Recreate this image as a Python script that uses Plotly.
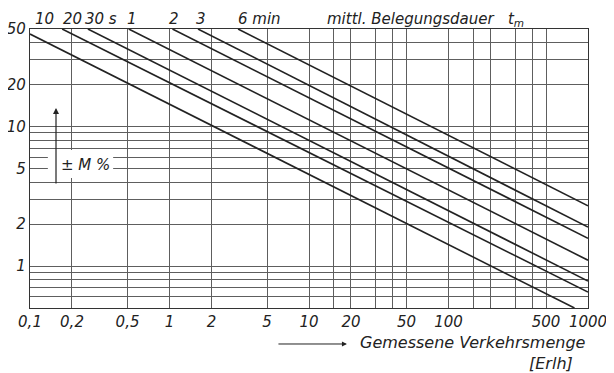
import math
import plotly.graph_objects as go

# ---- data ----
line_labels = ["10", "20", "30 s", "1", "2", "3", "6 min"]
x_start = [0.1, 0.17, 0.26, 0.51, 1.05, 1.6, 3.1]
y_start = [46, 50, 50, 50, 50, 50, 50]
x_end = [800, 1000, 1000, 1000, 1000, 1000, 1000]
y_end = [0.5, 0.65, 0.78, 1.1, 1.58, 1.9, 2.7]

x_grid = [0.1, 0.2, 0.5, 1, 2, 5, 10, 15, 20, 30, 40, 50, 100, 150, 200, 300, 400, 500, 1000]
x_ticktext = ["0,1", "0,2", "0,5", "1", "2", "5", "10", "", "20", "", "", "50", "100", "", "", "", "", "500", "1000"]
y_grid = [0.5, 0.6, 0.7, 0.8, 0.9, 1, 2, 3, 4, 5, 6, 7, 8, 9, 10, 20, 30, 40, 50]
y_ticktext = ["", "", "", "", "", "1", "2", "", "", "5", "", "", "", "", "10", "20", "", "", "50"]

FONT = "DejaVu Sans"
INK = "#222222"

fig = go.Figure()
for i in range(len(line_labels)):
    fig.add_trace(go.Scatter(
        x=[x_start[i], x_end[i]], y=[y_start[i], y_end[i]],
        mode="lines", line=dict(color=INK, width=1.6),
        hoverinfo="skip", showlegend=False, name=line_labels[i]))

axis_common = dict(
    showline=True, mirror=True, linecolor="#333333", linewidth=1.3,
    showgrid=True, gridcolor="#5e5e5e", gridwidth=0.9,
    ticks="", zeroline=False, automargin=False,
    tickfont=dict(family=FONT, size=15, color=INK, style="italic"),
)
fig.update_xaxes(type="log", range=[-1, 3], tickmode="array",
                 tickvals=x_grid, ticktext=x_ticktext, **axis_common)
fig.update_yaxes(type="log", range=[math.log10(0.5), math.log10(50)], tickmode="array",
                 tickvals=y_grid, ticktext=y_ticktext, **axis_common)

ann = []
# labels of the lines (above the plot, at each line's start)
shifts = [3, -1, -5, -4, -5, -4, -2]
for i, lab in enumerate(line_labels):
    ann.append(dict(x=math.log10(x_start[i]), y=1.035, xref="x", yref="paper",
                    text=lab, showarrow=False, xanchor="left", yanchor="middle",
                    xshift=shifts[i],
                    font=dict(family=FONT, size=15, color=INK, style="italic")))
ann.append(dict(x=0.529, y=1.035, xref="paper", yref="paper",
                text="mittl. Belegungsdauer&nbsp;&nbsp;&nbsp;t<sub>m</sub>", showarrow=False,
                xanchor="left", yanchor="middle",
                font=dict(family=FONT, size=15, color=INK, style="italic")))
# M% label with vertical arrow
ann.append(dict(x=0.0466, y=0.717, xref="paper", yref="paper", text="",
                showarrow=True, ax=0, ay=77,
                arrowhead=2, arrowsize=1, arrowwidth=1.2, arrowcolor=INK))
ann.append(dict(x=0.052, y=0.5125, xref="paper", yref="paper", text="± M %",
                showarrow=False, xanchor="left", yanchor="middle",
                font=dict(family=FONT, size=15, color=INK, style="italic")))
# x axis title with arrow
ann.append(dict(x=0.568, y=-0.129, xref="paper", yref="paper", text="",
                showarrow=True, ax=-70, ay=0,
                arrowhead=2, arrowsize=1, arrowwidth=1, arrowcolor=INK))
ann.append(dict(x=0.588, y=-0.125, xref="paper", yref="paper",
                text="Gemessene Verkehrsmenge", showarrow=False,
                xanchor="left", yanchor="middle",
                font=dict(family=FONT, size=16, color=INK, style="italic")))
ann.append(dict(x=0.891, y=-0.2, xref="paper", yref="paper",
                text="[Erlh]", showarrow=False, xanchor="left", yanchor="middle",
                font=dict(family=FONT, size=16, color=INK, style="italic")))

shapes = [dict(type="rect", xref="paper", yref="paper",
               x0=0.032, x1=0.149, y0=0.466, y1=0.566,
               fillcolor="white", line=dict(width=0), layer="above")]

# the page body adds an 8 px offset, so the figure is sized 8 px smaller
fig.update_layout(
    width=606, height=365,
    margin=dict(l=22, r=26, t=21, b=65, autoexpand=False),
    paper_bgcolor="white", plot_bgcolor="white",
    annotations=ann, shapes=shapes, showlegend=False,
    font=dict(family=FONT, color=INK),
)
fig.write_html("out.html")
